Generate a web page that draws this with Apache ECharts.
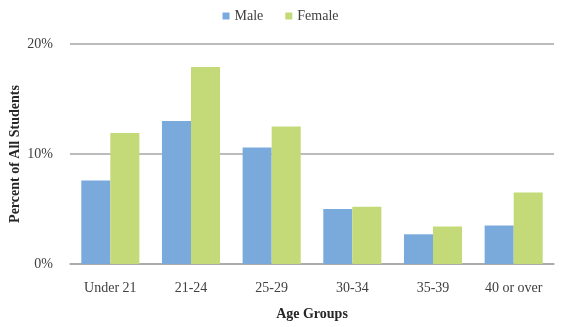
<!DOCTYPE html>
<html>
<head>
<meta charset="utf-8">
<script src="https://cdn.jsdelivr.net/npm/echarts@6/dist/echarts.min.js"></script>
<style>
  html, body { margin: 0; padding: 0; background: #fff; }
  #chart { width: 561px; height: 327px; }
</style>
</head>
<body>
<div id="chart"></div>
<script>
var ageGroups = ['Under 21', '21-24', '25-29', '30-34', '35-39', '40 or over'];
var maleValues = [7.6, 13.0, 10.6, 5.0, 2.7, 3.5];
var femaleValues = [11.9, 17.9, 12.5, 5.2, 3.4, 6.5];

var serif = '"Liberation Serif", "DejaVu Serif", serif';

var chart = echarts.init(document.getElementById('chart'));
chart.setOption({
    animation: false,
    textStyle: { fontFamily: serif },
    color: ['#7aaadc', '#c4da78'],
    legend: {
        top: 4,
        left: 'center',
        itemWidth: 7,
        itemHeight: 7,
        itemGap: 22,
        icon: 'rect',
        textStyle: { fontFamily: serif, fontSize: 14, color: '#404040' },
        data: ['Male', 'Female']
    },
    grid: { left: 70, right: 7, top: 44, bottom: 63, outerBoundsMode: 'none' },
    xAxis: {
        type: 'category',
        data: ageGroups,
        name: 'Age Groups',
        nameLocation: 'middle',
        nameGap: 43,
        nameMoveOverlap: false,
        nameTextStyle: { fontFamily: serif, fontSize: 14, fontWeight: 'bold', color: '#262626' },
        axisTick: { show: false },
        axisLine: { lineStyle: { color: '#a6a6a6', width: 1.5 } },
        axisLabel: { fontFamily: serif, fontSize: 14, color: '#404040', margin: 17 }
    },
    yAxis: {
        type: 'value',
        min: 0,
        max: 20,
        interval: 10,
        name: 'Percent of All Students',
        nameLocation: 'middle',
        nameGap: 48,
        nameMoveOverlap: false,
        nameTextStyle: { fontFamily: serif, fontSize: 14, fontWeight: 'bold', color: '#262626' },
        axisLabel: { fontFamily: serif, fontSize: 14, color: '#404040', margin: 17, formatter: '{value}%' },
        axisLine: { show: false },
        axisTick: { show: false },
        splitLine: { lineStyle: { color: '#a6a6a6', width: 1.5 } }
    },
    series: [
        { name: 'Male', type: 'bar', data: maleValues, barGap: '0%', barCategoryGap: '28%' },
        { name: 'Female', type: 'bar', data: femaleValues, barGap: '0%', barCategoryGap: '28%' }
    ]
});
</script>
</body>
</html>
